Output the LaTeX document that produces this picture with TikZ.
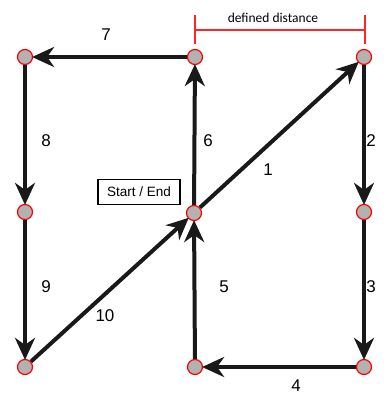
\documentclass[tikz,border=0pt]{standalone}
\usepackage{fontspec}
\setmainfont{Liberation Sans}
\newfontfamily\calib{Carlito}
\usetikzlibrary{arrows.meta}
\begin{document}
\begin{tikzpicture}[x=1pt,y=-1pt,
  pt/.style={circle,draw=red,fill=black!30,line width=1.2pt,minimum size=15pt,inner sep=0pt},
  edge/.style={line width=4pt,draw=black!90,-{Stealth[length=22pt,width=20pt,inset=7pt]},shorten >=-1pt},
  lbl/.style={font=\fontsize{17}{17}\selectfont,inner sep=0pt},
  dist/.style={draw=red!85!white,line width=1.3pt}]
\useasboundingbox (0,0) rectangle (390,397);
\node[pt] (tl) at (25,57) {};
\node[pt] (tm) at (195,57) {};
\node[pt] (tr) at (364,57) {};
\node[pt] (ml) at (25,212) {};
\node[pt] (c) at (194,213) {};
\node[pt] (mr) at (364,212) {};
\node[pt] (bl) at (25,367) {};
\node[pt] (bm) at (195,367) {};
\node[pt] (br) at (364,367) {};
\draw[edge] (c) -- (tr);
\draw[edge] (tr) -- (mr);
\draw[edge] (mr) -- (br);
\draw[edge] (br) -- (bm);
\draw[edge] (bm) -- (c);
\draw[edge] (c) -- (tm);
\draw[edge] (tm) -- (tl);
\draw[edge] (tl) -- (ml);
\draw[edge] (ml) -- (bl);
\draw[edge] (bl) -- (c);
\node[lbl] (l1) at (268,170) {1};
\node[lbl] (l2) at (371,141) {2};
\node[lbl] (l3) at (371,287) {3};
\node[lbl] (l4) at (296,386) {4};
\node[lbl] (l5) at (224,287) {5};
\node[lbl] (l6) at (208,141) {6};
\node[lbl] (l7) at (106,35) {7};
\node[lbl] (l8) at (46,141) {8};
\node[lbl] (l9) at (46,287) {9};
\node[lbl] (l10) at (105,316) {10};
\node[draw,line width=1.3pt,minimum width=82pt,minimum height=25pt,inner sep=0pt,font=\fontsize{13.5}{13.5}\selectfont] (se) at (139,192) {Start / End};
\coordinate (d1a) at (195,15);
\coordinate (d1b) at (195,44);
\coordinate (d2a) at (365,15);
\coordinate (d2b) at (365,44);
\coordinate (m1) at (195,30);
\coordinate (m2) at (365,30);
\draw[dist] (d1a) -- (d1b);
\draw[dist] (d2a) -- (d2b);
\draw[dist] (m1) -- (m2);
\node[font=\calib\fontsize{13.5}{13.5}\selectfont,inner sep=0pt] (dd) at (273,18) {defined distance};
\end{tikzpicture}
\end{document}
